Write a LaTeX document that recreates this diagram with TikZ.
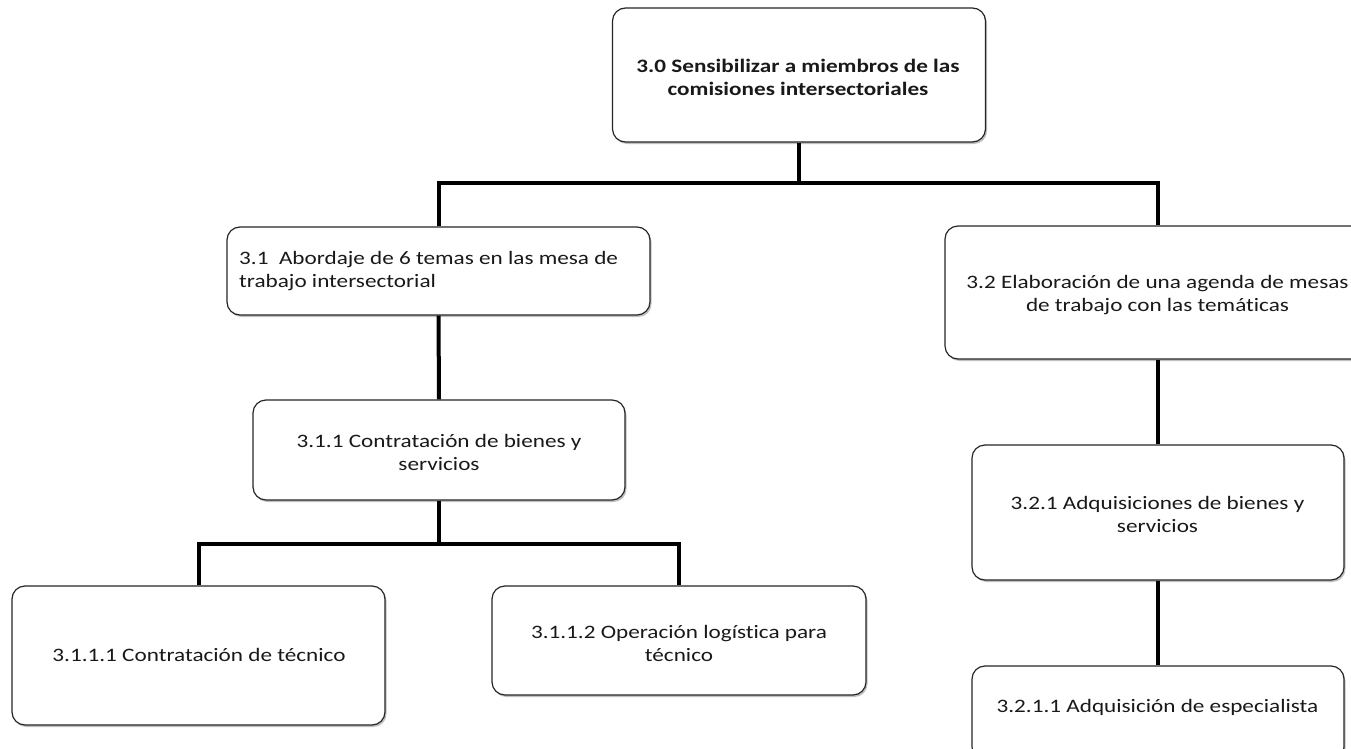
\documentclass[tikz,border=0pt]{standalone}
\usepackage{fontspec}
\setmainfont{Carlito}[FakeStretch=1.22, Ligatures={TeX,NoCommon}]
\usetikzlibrary{shadows}
\begin{document}
\begin{tikzpicture}[x=1pt,y=-1pt,
  box/.style={draw=black!85, line width=1.2pt, rounded corners=13pt, fill=white,
    drop shadow={shadow xshift=1.5pt, shadow yshift=-2pt, opacity=0.35, fill=black!70},
    inner sep=0pt},
  txt/.style={font=\fontsize{19}{23}\selectfont, text=black!90, inner sep=0pt, align=center},
  link/.style={line width=4pt, line join=miter, draw=black}]
  % canvas
  \fill[white] (0,0) rectangle (1351,749);
  \useasboundingbox (0,0) rectangle (1351,749);

  % junction points of the tree
  \coordinate (j0) at (799,183);
  \coordinate (j1) at (439,544);

  % boxes
  \node[box, minimum width=373pt, minimum height=134pt] (b30)   at (799,75) {};
  \node[box, minimum width=423pt, minimum height=88pt]  (b31)   at (438.5,271) {};
  \node[box, minimum width=426pt, minimum height=133pt] (b32)   at (1158,292.5) {};
  \node[box, minimum width=372pt, minimum height=100pt] (b311)  at (439,450) {};
  \node[box, minimum width=373pt, minimum height=139pt] (b3111) at (198.5,655.5) {};
  \node[box, minimum width=374pt, minimum height=109pt] (b3112) at (679,640.5) {};
  \node[box, minimum width=372pt, minimum height=135pt] (b321)  at (1158,512.5) {};
  \node[box, minimum width=372pt, minimum height=94pt]  (b3211) at (1158,713) {};

  % connectors
  \draw[link] (b30.south) -- (j0);
  \draw[link] (b31.north) |- (j0) -| (b32.north);
  \draw[link] (b31.south) -- (b311.north);
  \draw[link] (b311.south) -- (j1);
  \draw[link] (b3111.north) |- (j1) -| (b3112.north);
  \draw[link] (b32.south) -- (b321.north);
  \draw[link] (b321.south) -- (b3211.north);

  % labels
  \node[txt, font=\fontsize{19}{23}\selectfont\bfseries] (t30) at (798,77)
    {3.0 Sensibilizar a miembros de las\\comisiones intersectoriales};
  \node[txt, align=left, anchor=west] (t31) at (239,271)
    {3.1\ \ Abordaje de 6 temas en las mesa de\\trabajo intersectorial};
  \node[txt] (t32) at (1157.5,295)
    {3.2 Elaboración de una agenda de mesas\\de trabajo con las temáticas};
  \node[txt] (t311) at (439,452)
    {3.1.1 Contratación de bienes y\\servicios};
  \node[txt] (t3111) at (199,655)
    {3.1.1.1 Contratación de técnico};
  \node[txt] (t3112) at (679,643)
    {3.1.1.2 Operación logística para\\técnico};
  \node[txt] (t321) at (1157.5,514)
    {3.2.1 Adquisiciones de bienes y\\servicios};
  \node[txt] (t3211) at (1157.5,707)
    {3.2.1.1 Adquisición de especialista};
\end{tikzpicture}
\end{document}
